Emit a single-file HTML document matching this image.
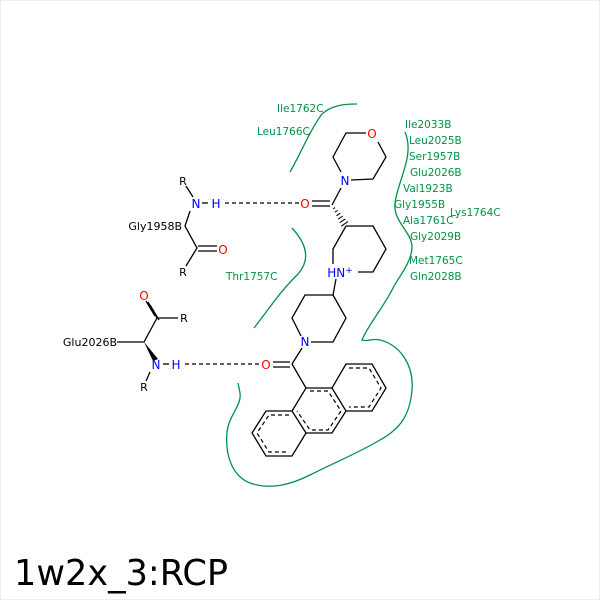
<!DOCTYPE html>
<html><head><style>
html,body{margin:0;padding:0;background:#fff}
svg{display:block}
text{font-family:"DejaVu Sans","Liberation Sans",sans-serif}
.g{fill:#00924a;font-size:10.5px}
.k{fill:#000;font-size:11px}
.b{fill:#0000ff;font-size:12px}
.r{fill:#ff0000;font-size:12px}
</style></head><body>
<svg width="600" height="600" viewBox="0 0 600 600" xmlns="http://www.w3.org/2000/svg">
<rect x="0.5" y="0.5" width="599" height="599" fill="#fff" stroke="#eee"/>
<g fill="none" stroke="#00924a" stroke-width="1.3">
<path d="M290,172 C300,155 310,130 322,114 C332,105 345,104 357,104"/>
<path d="M292,228 C305,242 312,258 298,274 C278,294 272,305 254,328"/>
<path d="M405,132 C415,155 398,180 395,203 C393,222 412,232 412,247 C412,262 398,278 393,288 C385,305 368,325 362,340 C368,342 372,338 380,340 C400,345 414,365 412,390 C410,413 402,428 380,440 C360,452 340,460 310,475 C290,485 270,490 250,483 C232,476 225,455 227,432 C229,415 242,405 240,393 L238,383"/>
</g>
<g stroke="#000" stroke-width="1.3" fill="none">
<path d="M366,133 L346,133 L333,157 L341,172 M351,180 L373,179 L386,157 L378,142"/>
<path d="M341,188 L332,205"/>
<path d="M312,201 L330,201 M312,206 L330,206"/>
<path d="M346,226 L373,226 L386,249 L373,272 L358,272 M333,264 L333,249 L346,226"/>
<path d="M336,279 L333,295"/>
<path d="M333,295 L305,295 L292,318 L301,336 M311,342 L333,342 L346,318 L333,295"/>
<path d="M302,348 L292,364"/>
<path d="M273,362 L290,362 M273,367 L290,367"/>
<path d="M292,364 L306,388"/>
<path d="M306,388 L332,388 L346,411 L332,433 L306,433 L292,411 Z"/>
<path d="M332,388 L346,364 L372,364 L386,388 L372,411 L346,411"/>
<path d="M292,411 L266,411 L252,433 L266,456 L292,456 L306,433"/>
<path d="M186,186 L193,197 M190,211 L185,226 L197,248 L186,266"/>
<path d="M198,246 L217,246 M198,251 L217,251"/>
<path d="M202,203 L208,203"/>
<path d="M117,342 L144,342 L157,318 L178,318"/>
<path d="M155,316 L146,301 M159,320 L150,305 M157,318 L148,302"/>
<path d="M150,372 L146,381"/>
<path d="M163,364 L169,364"/>
</g>
<g stroke="#000" stroke-width="1.2" fill="none" stroke-dasharray="4,3">
<path d="M310,391 L328,391 L341,411 L328,430 L310,430 L297,411"/>
<path d="M349,368 L369,368 L381,388 L369,407 L349,407"/>
<path d="M289,415 L269,415 L257,433 L269,452 L289,452"/>
<path d="M225,203 L299,203"/>
<path d="M185,364 L259,364"/>
</g>
<g stroke="#000" stroke-width="1">
<path d="M333.2,208.8 L335,207.6 M334.8,212.2 L337.6,210.4 M336.4,215.8 L340.2,213.2 M338,219.2 L342.8,216 M339.6,222.7 L345.4,218.9 M341.2,226.2 L348,221.6"/>
</g>
<polygon points="144,342 158,359 153,361" fill="#000"/>
<text class="r" x="372" y="138" text-anchor="middle">O</text>
<text class="b" x="345" y="185" text-anchor="middle">N</text>
<text class="r" x="305" y="208" text-anchor="middle">O</text>
<text class="b" x="340" y="277" text-anchor="middle">HN<tspan font-size="9" dy="-4">+</tspan></text>
<text class="b" x="305" y="346" text-anchor="middle">N</text>
<text class="r" x="266" y="369" text-anchor="middle">O</text>
<text class="k" x="183" y="185" text-anchor="middle">R</text>
<text class="b" x="196" y="208" text-anchor="middle">N</text>
<text class="b" x="216" y="208" text-anchor="middle">H</text>
<text class="k" x="182" y="230" text-anchor="end">Gly1958B</text>
<text class="r" x="223" y="254" text-anchor="middle">O</text>
<text class="k" x="183" y="276" text-anchor="middle">R</text>
<text class="r" x="144" y="300" text-anchor="middle">O</text>
<text class="k" x="184" y="322" text-anchor="middle">R</text>
<text class="k" x="117" y="346" text-anchor="end">Glu2026B</text>
<text class="b" x="156" y="369" text-anchor="middle">N</text>
<text class="b" x="176" y="369" text-anchor="middle">H</text>
<text class="k" x="144" y="391" text-anchor="middle">R</text>
<text class="g" x="277" y="112">Ile1762C</text>
<text class="g" x="257" y="135">Leu1766C</text>
<text class="g" x="226" y="280">Thr1757C</text>
<text class="g" x="405" y="128">Ile2033B</text>
<text class="g" x="409" y="144">Leu2025B</text>
<text class="g" x="409" y="160">Ser1957B</text>
<text class="g" x="410" y="176">Glu2026B</text>
<text class="g" x="403" y="192">Val1923B</text>
<text class="g" x="394" y="208">Gly1955B</text>
<text class="g" x="450" y="216">Lys1764C</text>
<text class="g" x="403" y="224">Ala1761C</text>
<text class="g" x="410" y="240">Gly2029B</text>
<text class="g" x="409" y="264">Met1765C</text>
<text class="g" x="410" y="280">Gln2028B</text>
<text x="14" y="585" font-size="36" fill="#000" textLength="214" lengthAdjust="spacingAndGlyphs">1w2x_3:RCP</text>
</svg>
</body></html>
